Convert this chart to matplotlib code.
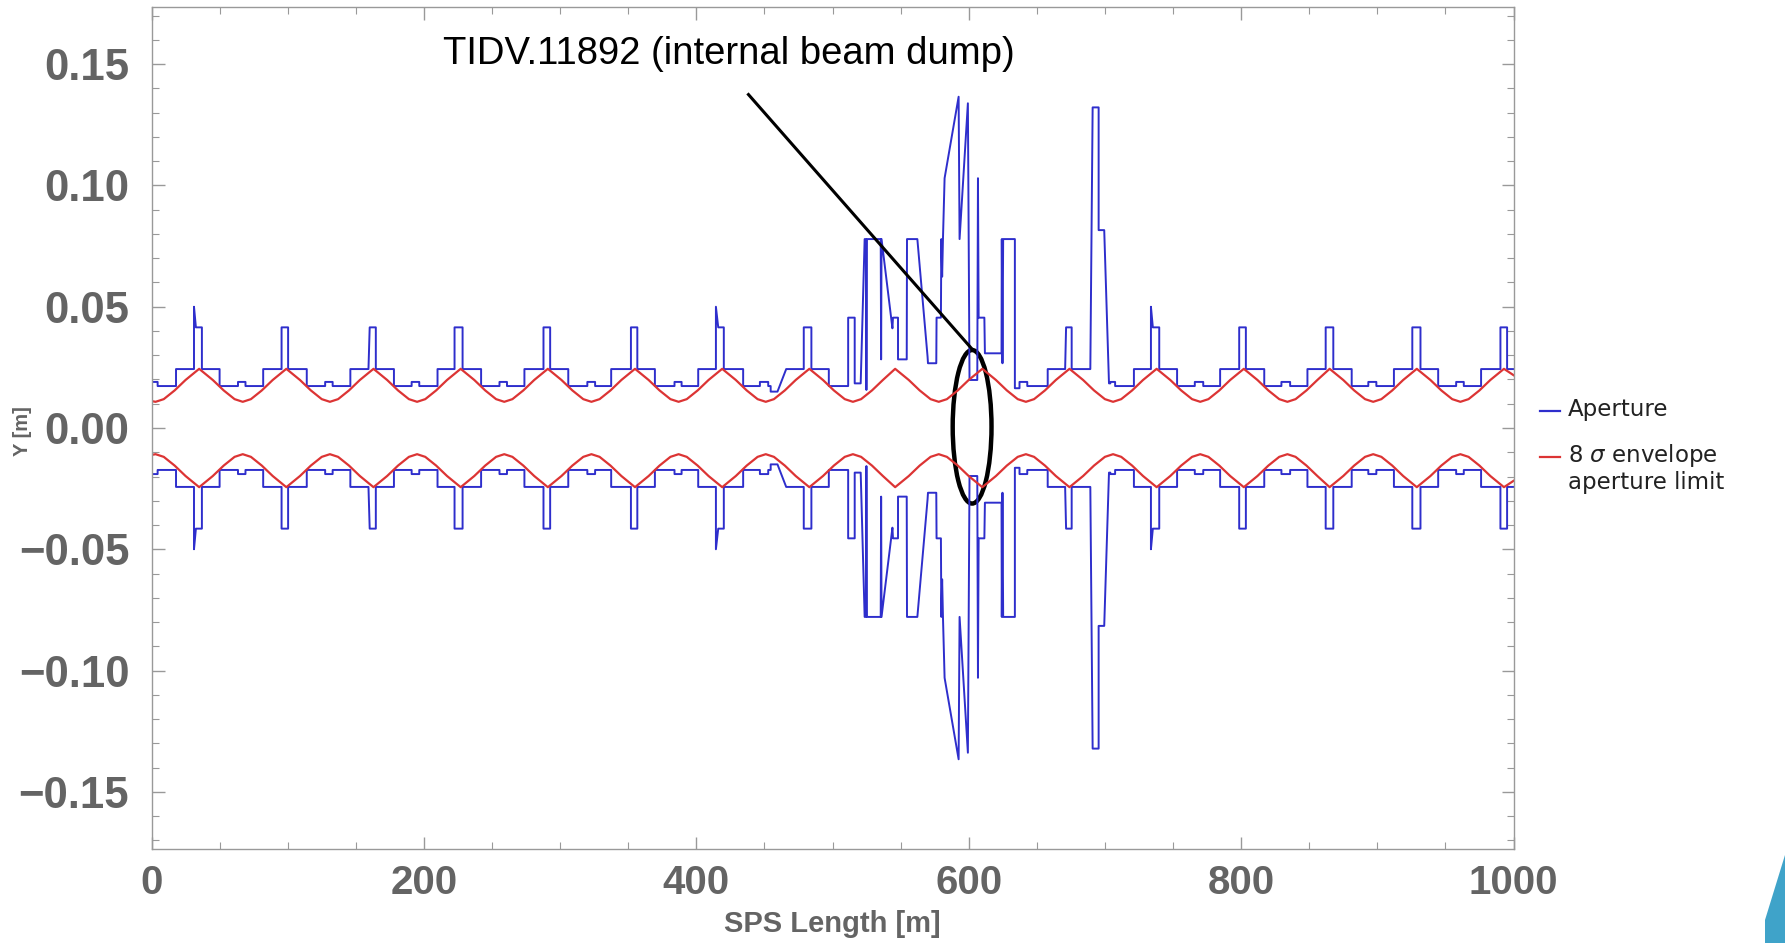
import matplotlib.pyplot as plt
from matplotlib.patches import Ellipse, Polygon
from matplotlib.lines import Line2D

plt.rcParams['font.family'] = ['Liberation Sans', 'DejaVu Sans']

# aperture levels (m)
L, H, S, B = 0.0173, 0.0243, 0.0415, 0.0190

# upper aperture edge (s [m], y [m]); lower edge is the mirror image
ap_pts = [
    (0, B), (4.5, B), (4.5, L),
    (18, L), (18, H), (31.2, H), (31.2, 0.050), (32.6, S), (37, S), (37, H), (50, H), (50, L),
    (63.5, L), (63.5, B), (69, B), (69, L),
    (82, L), (82, H), (95.5, H), (95.5, S), (100.3, S), (100.3, H), (114, H), (114, L),
    (127.5, L), (127.5, B), (133, B), (133, L),
    (146, L), (146, H), (159.3, H), (160.2, S), (164.7, S), (164.7, H), (178, H), (178, L),
    (191, L), (191, B), (196.6, B), (196.6, L),
    (210, L), (210, H), (222.5, H), (222.5, S), (228.4, S), (228.4, H), (242, H), (242, L),
    (255.5, L), (255.5, B), (261, B), (261, L),
    (273.8, L), (273.8, H), (287.8, H), (287.8, S), (292.7, S), (292.7, H), (306, H), (306, L),
    (320, L), (320, B), (325.7, B), (325.7, L),
    (337.5, L), (337.5, H), (352, H), (352, S), (356.7, S), (356.7, H), (369.6, H), (369.6, L),
    (384, L), (384, B), (389.2, B), (389.2, L),
    (401.4, L), (401.4, H), (414.4, H), (414.4, 0.050), (416.1, S), (420.2, S), (420.2, H),
    (434.4, H), (434.4, L),
    (446.7, L), (446.7, B), (452.8, B), (452.8, L), (454.6, L), (454.6, 0.0150),
    (459.6, 0.0150), (466, H),
    (478.9, H), (478.9, S), (484.5, S), (484.5, H), (497.3, H), (497.3, L),
    # extraction / dump region
    (511.5, L), (511.5, 0.0455), (516.3, 0.0455), (516.3, 0.0184), (520.7, 0.0184),
    (523.6, 0.0779), (524.6, 0.0779), (524.9, 0.0157), (525.3, 0.0779), (535.4, 0.0779),
    (535.7, 0.0283), (536.0, 0.0779), (544.0, 0.0411), (544.4, 0.0455), (548.1, 0.0455),
    (548.1, 0.0283), (554.5, 0.0283), (554.7, 0.0779), (562.3, 0.0779), (569.8, 0.0294),
    (570.1, 0.0267), (576.2, 0.0267), (576.4, 0.0455), (579.6, 0.0455), (579.9, 0.0779),
    (580.5, 0.0624), (581.1, 0.0779), (582.3, 0.1030), (592.6, 0.1366), (593.3, 0.0779),
    (599.4, 0.1339), (600.6, 0.0198), (606.3, 0.0198), (606.8, 0.1030), (607.3, 0.0455),
    (611.5, 0.0455), (611.9, 0.0308), (624.1, 0.0308), (624.3, 0.0779), (624.8, 0.0267),
    (625.3, 0.0779), (633.9, 0.0779), (633.9, 0.0164), (637.3, 0.0164), (637.3, B),
    (643.0, B), (643.0, L), (658.0, L), (658.0, H), (670.8, H), (671.5, S), (675.6, S),
    (675.6, H), (689.3, H), (691.0, 0.1322), (695.4, 0.1322), (695.4, 0.0816),
    (699.5, 0.0816), (703.0, 0.0184), (704.0, 0.0184), (704.0, B), (707.5, B), (707.5, L),
    (721.3, L), (721.3, H), (733.8, H), (733.8, 0.050), (735.2, S), (739.9, S), (739.9, H),
    (753, H), (753, L),
    (766, L), (766, B), (772.2, B), (772.2, L),
    (784.6, L), (784.6, H), (798.6, H), (798.6, S), (803.5, S), (803.5, H), (817, H), (817, L),
    (829.6, L), (829.6, B), (836, B), (836, L),
    (848.7, L), (848.7, H), (862.1, H), (862.1, S), (867.7, S), (867.7, H), (881.2, H), (881.2, L),
    (893.4, L), (893.4, B), (899.3, B), (899.3, L),
    (912.2, L), (912.2, H), (925.7, H), (925.7, S), (931.7, S), (931.7, H), (944.7, H), (944.7, L),
    (957.9, L), (957.9, B), (963.5, B), (963.5, L),
    (976.2, L), (976.2, H), (990.4, H), (990.4, S), (995.3, S), (995.3, H), (1000, H),
]

# 8 sigma envelope, upper branch
env_x = [0, 3, 9, 17, 25, 35, 45, 53, 61,
         67, 73, 81, 89, 99, 109, 117, 125,
         131, 137, 145, 153, 163, 173, 181, 189,
         195, 201, 209, 217, 227, 237, 245, 253,
         259, 265, 273, 281, 291, 301, 309, 317,
         323, 329, 337, 345, 355, 365, 373, 381,
         387, 393, 401, 409, 419, 429, 437, 445,
         451, 457, 465, 473, 483, 493, 501, 509,
         515, 521, 529, 537, 546, 556, 564, 572,
         578, 584, 592, 600, 610, 620, 628, 636,
         642, 648, 656, 664, 674, 684, 692, 700,
         706, 712, 720, 728, 738, 748, 756, 764,
         770, 776, 784, 792, 802, 812, 820, 828,
         834, 840, 848, 856, 865, 875, 883, 891,
         897, 903, 911, 919, 929, 939, 947, 955,
         961, 967, 975, 983, 993, 1000]
env_y = [0.0111, 0.0108, 0.0119, 0.0155, 0.0198, 0.0244, 0.0198, 0.0155, 0.0119,
         0.0108, 0.0119, 0.0155, 0.0198, 0.0244, 0.0198, 0.0155, 0.0119,
         0.0108, 0.0119, 0.0155, 0.0198, 0.0244, 0.0198, 0.0155, 0.0119,
         0.0108, 0.0119, 0.0155, 0.0198, 0.0244, 0.0198, 0.0155, 0.0119,
         0.0108, 0.0119, 0.0155, 0.0198, 0.0244, 0.0198, 0.0155, 0.0119,
         0.0108, 0.0119, 0.0155, 0.0198, 0.0244, 0.0198, 0.0155, 0.0119,
         0.0108, 0.0119, 0.0155, 0.0198, 0.0244, 0.0198, 0.0155, 0.0119,
         0.0108, 0.0119, 0.0155, 0.0198, 0.0244, 0.0198, 0.0155, 0.0119,
         0.0108, 0.0119, 0.0155, 0.0198, 0.0244, 0.0198, 0.0155, 0.0119,
         0.0108, 0.0119, 0.0155, 0.0198, 0.0244, 0.0198, 0.0155, 0.0119,
         0.0108, 0.0119, 0.0155, 0.0198, 0.0244, 0.0198, 0.0155, 0.0119,
         0.0108, 0.0119, 0.0155, 0.0198, 0.0244, 0.0198, 0.0155, 0.0119,
         0.0108, 0.0119, 0.0155, 0.0198, 0.0244, 0.0198, 0.0155, 0.0119,
         0.0108, 0.0119, 0.0155, 0.0198, 0.0244, 0.0198, 0.0155, 0.0119,
         0.0108, 0.0119, 0.0155, 0.0198, 0.0244, 0.0198, 0.0155, 0.0119,
         0.0108, 0.0119, 0.0155, 0.0198, 0.0244, 0.0218]

x_ticks = [0, 200, 400, 600, 800, 1000]
y_ticks = [-0.15, -0.10, -0.05, 0.00, 0.05, 0.10, 0.15]

BLUE = '#2e2ecc'
RED = '#dc3434'
GREY = '#646464'
TICKFONT = dict(family='Liberation Sans', fontweight='bold', color=GREY)

fig = plt.figure(figsize=(17.85, 9.43), dpi=100)
ax = fig.add_axes([151.5 / 1785, 1 - 849 / 943, 1362 / 1785, 842 / 943])

ap_x = [p[0] for p in ap_pts]
ap_y = [p[1] for p in ap_pts]
ax.plot(ap_x, ap_y, color=BLUE, lw=1.4)
ax.plot(ap_x, [-v for v in ap_y], color=BLUE, lw=1.4)
ax.plot(env_x, env_y, color=RED, lw=1.6)
ax.plot(env_x, [-v for v in env_y], color=RED, lw=1.6)

ax.set_xlim(0, 1000)
ax.set_ylim(-0.1736, 0.1736)

ax.set_xticks(x_ticks)
ax.set_xticklabels([str(t) for t in x_ticks], fontsize=29, **TICKFONT)
ax.set_xticks(range(0, 1001, 50), minor=True)
ax.set_yticks(y_ticks)
ax.set_yticklabels([('%.2f' % t).replace('-', '\u2212') for t in y_ticks],
                   fontsize=31.5, **TICKFONT)
ax.set_yticks([i / 100 for i in range(-17, 18)], minor=True)
ax.tick_params(which='both', direction='in', top=True, right=True, color='#999999')
ax.tick_params(which='major', length=9, width=1)
ax.tick_params(which='minor', length=5, width=0.8)
ax.tick_params(axis='x', pad=11)
ax.tick_params(axis='y', pad=16)
for sp in ax.spines.values():
    sp.set_color('#999999')
    sp.set_linewidth(1)


def fx(px):
    return px / 1785


def fy(py):
    return 1 - py / 943


# axis titles
fig.text(fx(832), fy(924), 'SPS Length [m]', ha='center', va='center', fontsize=21, **TICKFONT)
fig.text(fx(22), fy(431), 'Y [m]', ha='center', va='center', rotation=90, fontsize=14.5,
         **TICKFONT)

# annotation of the dump
ax.text(424, 0.1544, 'TIDV.11892 (internal beam dump)', ha='center', va='center',
        fontsize=27.5, color='black')
ax.plot([438.3, 603], [0.1375, 0.0322], color='black', lw=2.2)
ax.add_patch(Ellipse((602.5, 0.0005), 28.5, 0.0633, fill=False, ec='black', lw=3.2))

# legend outside, on the right
fig.add_artist(Line2D([fx(1540), fx(1560)], [fy(411), fy(411)], color=BLUE, lw=1.6))
fig.add_artist(Line2D([fx(1540), fx(1560)], [fy(457), fy(457)], color=RED, lw=1.6))
LEGFONT = dict(family='DejaVu Sans', fontsize=16.5, color='#222222', va='baseline')
fig.text(fx(1568), fy(416), 'Aperture', **LEGFONT)
fig.text(fx(1568), fy(462), '8 $\\sigma$ envelope', **LEGFONT)
fig.text(fx(1568), fy(489), 'aperture limit', **LEGFONT)

# slide decoration in the corner
fig.patches.append(Polygon([(fx(1785), fy(855)), (fx(1765), fy(920)), (fx(1765), fy(943)),
                            (fx(1785), fy(943))], closed=True, transform=fig.transFigure,
                           facecolor='#3fa3c9', edgecolor='none'))

fig.savefig('out.png', dpi=100)
